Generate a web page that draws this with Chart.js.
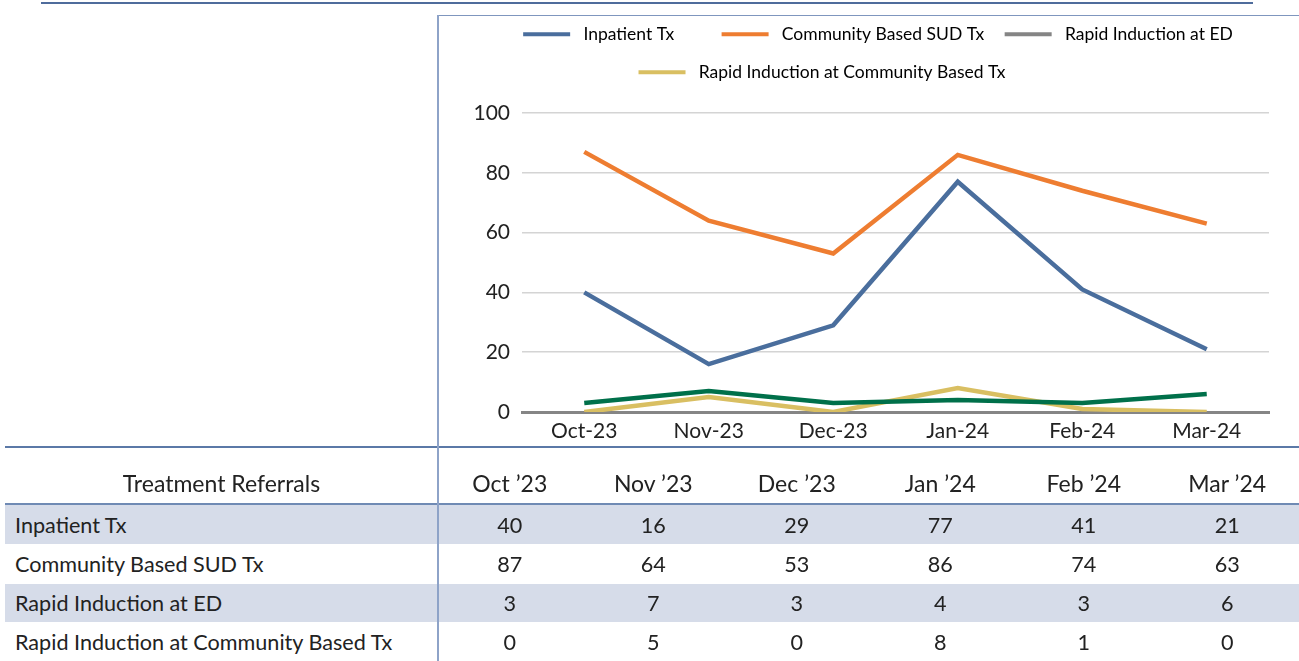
<!DOCTYPE html>
<html>
<head>
<meta charset="utf-8">
<script src="https://cdn.jsdelivr.net/npm/chart.js@4.4.1/dist/chart.umd.min.js"></script>
<style>
  html, body { margin: 0; padding: 0; background: #ffffff; }
  body { width: 1299px; height: 661px; position: relative; overflow: hidden; font-family: Lato, "Open Sans", sans-serif; color: #222; }
  .abs { position: absolute; }
  #chartWrap { position: absolute; left: 439px; top: 5px; width: 860px; height: 442px; }
  .cell { position: absolute; font-size: 21.6px; line-height: 39px; height: 39px; white-space: nowrap; }
  .hdr { font-size: 23px; }
  .num { text-align: center; width: 143.5px; }
  .shade { position: absolute; left: 5px; width: 1294px; background: #d6dce9; }
</style>
</head>
<body>
<div class="abs" style="left:41px;top:2px;width:1212px;height:2px;background:#4f6c9c;"></div>
<div class="abs" style="left:437px;top:15px;width:862px;height:1px;background:#7f96be;"></div>

<div class="shade" style="top:505px;height:39px;"></div>
<div class="shade" style="top:584px;height:38px;"></div>

<div id="chartWrap"><canvas id="c" width="860" height="442"></canvas></div>

<div class="abs" style="left:5px;top:446px;width:1294px;height:2px;background:#5b79a7;"></div>
<div class="abs" style="left:5px;top:503px;width:1294px;height:2px;background:#6f8ab4;"></div>
<div class="abs" style="left:437px;top:15px;width:2px;height:646px;background:#8ea3c8;"></div>

<div id="table"></div>

<script>
const categories = ["Oct-23", "Nov-23", "Dec-23", "Jan-24", "Feb-24", "Mar-24"];
const tableHeaders = ["Oct \u201923", "Nov \u201923", "Dec \u201923", "Jan \u201924", "Feb \u201924", "Mar \u201924"];
const tableTitle = "Treatment Referrals";
const seriesNames = ["Inpatient Tx", "Community Based SUD Tx", "Rapid Induction at ED", "Rapid Induction at Community Based Tx"];
const inpatientTx = [40, 16, 29, 77, 41, 21];
const communitySudTx = [87, 64, 53, 86, 74, 63];
const rapidInductionED = [3, 7, 3, 4, 3, 6];
const rapidInductionCommunity = [0, 5, 0, 8, 1, 0];
const yTicks = [0, 20, 40, 60, 80, 100];

const lineColors = ["#4a6e9d", "#ee7d31", "#00704a", "#d9bf62"];
const legendColors = ["#4a6e9d", "#ee7d31", "#858585", "#d9bf62"];
const seriesData = [inpatientTx, communitySudTx, rapidInductionED, rapidInductionCommunity];

// Table
(function buildTable() {
  const t = document.getElementById('table');
  let html = '';
  const colLeft = 438, colW = 143.5;
  html += `<div class="cell hdr" style="left:5px;width:433px;text-align:center;top:464px;">${tableTitle}</div>`;
  tableHeaders.forEach((h, i) => {
    html += `<div class="cell hdr num" style="left:${colLeft + i * colW}px;top:464px;">${h}</div>`;
  });
  const rowTops = [506, 545, 584, 623];
  seriesNames.forEach((name, r) => {
    html += `<div class="cell" style="left:15px;top:${rowTops[r]}px;">${name}</div>`;
    seriesData[r].forEach((v, i) => {
      html += `<div class="cell num" style="left:${colLeft + i * colW}px;top:${rowTops[r]}px;">${v}</div>`;
    });
  });
  t.innerHTML = html;
})();

const drawOrder = [0, 0, 1, 1];
const legendFontSize = 17.5;
// extra spacing (px) around legend texts to mimic the original legend layout
const leadGap = 5;
const trailGaps = [28, 0, 0, 110];
const legendShift = 48;

const measureCtx = document.createElement('canvas').getContext('2d');
measureCtx.font = legendFontSize + 'px Lato';
function spaces(px) {
  const w = measureCtx.measureText(' ').width || 4;
  return ' '.repeat(Math.max(0, Math.round(px / w)));
}

const legendPad = {
  id: 'legendPad',
  beforeInit(chart) {
    const orig = chart.legend.fit;
    chart.legend.fit = function () { orig.call(this); this.height += 22; };
  },
  afterLayout(chart) {
    chart.legend.left += legendShift;
  }
};

new Chart(document.getElementById('c'), {
  type: 'line',
  data: {
    labels: categories,
    datasets: seriesNames.map((n, i) => ({
      label: n,
      data: seriesData[i],
      borderColor: lineColors[i],
      backgroundColor: lineColors[i],
      borderWidth: 4.5,
      pointRadius: 0,
      tension: 0,
      order: drawOrder[i]
    }))
  },
  options: {
    responsive: false,
    animation: false,
    layout: { padding: { left: 0, right: 30, top: 0, bottom: 0 } },
    plugins: {
      tooltip: { enabled: false },
      legend: {
        position: 'top',
        labels: {
          boxWidth: 47,
          boxHeight: 4,
          padding: 20.5,
          color: '#222',
          font: { family: 'Lato', size: legendFontSize },
          generateLabels(chart) {
            return chart.data.datasets.map((ds, i) => ({
              text: spaces(leadGap) + ds.label + spaces(trailGaps[i]),
              fillStyle: legendColors[i],
              strokeStyle: legendColors[i],
              lineWidth: 0,
              hidden: false,
              datasetIndex: i
            }));
          }
        }
      }
    },
    scales: {
      x: {
        offset: true,
        grid: { display: false, drawTicks: false },
        border: { display: true, color: '#858585', width: 3 },
        ticks: { color: '#222', font: { family: 'Lato', size: 21 }, padding: 7, maxRotation: 0 },
        afterFit(scale) { scale.height = 35; }
      },
      y: {
        min: 0,
        max: 100,
        afterBuildTicks(scale) { scale.ticks = yTicks.map(v => ({ value: v })); },
        grid: {
          drawTicks: false,
          color: ctx => ctx.tick && ctx.tick.value === 0 ? 'rgba(0,0,0,0)' : '#d4d4d4',
          lineWidth: 1.5
        },
        border: { display: false },
        ticks: { color: '#222', font: { family: 'Lato', size: 21 }, padding: 12 },
        afterFit(scale) { scale.width = 83; }
      }
    }
  },
  plugins: [legendPad]
});
</script>
</body>
</html>
